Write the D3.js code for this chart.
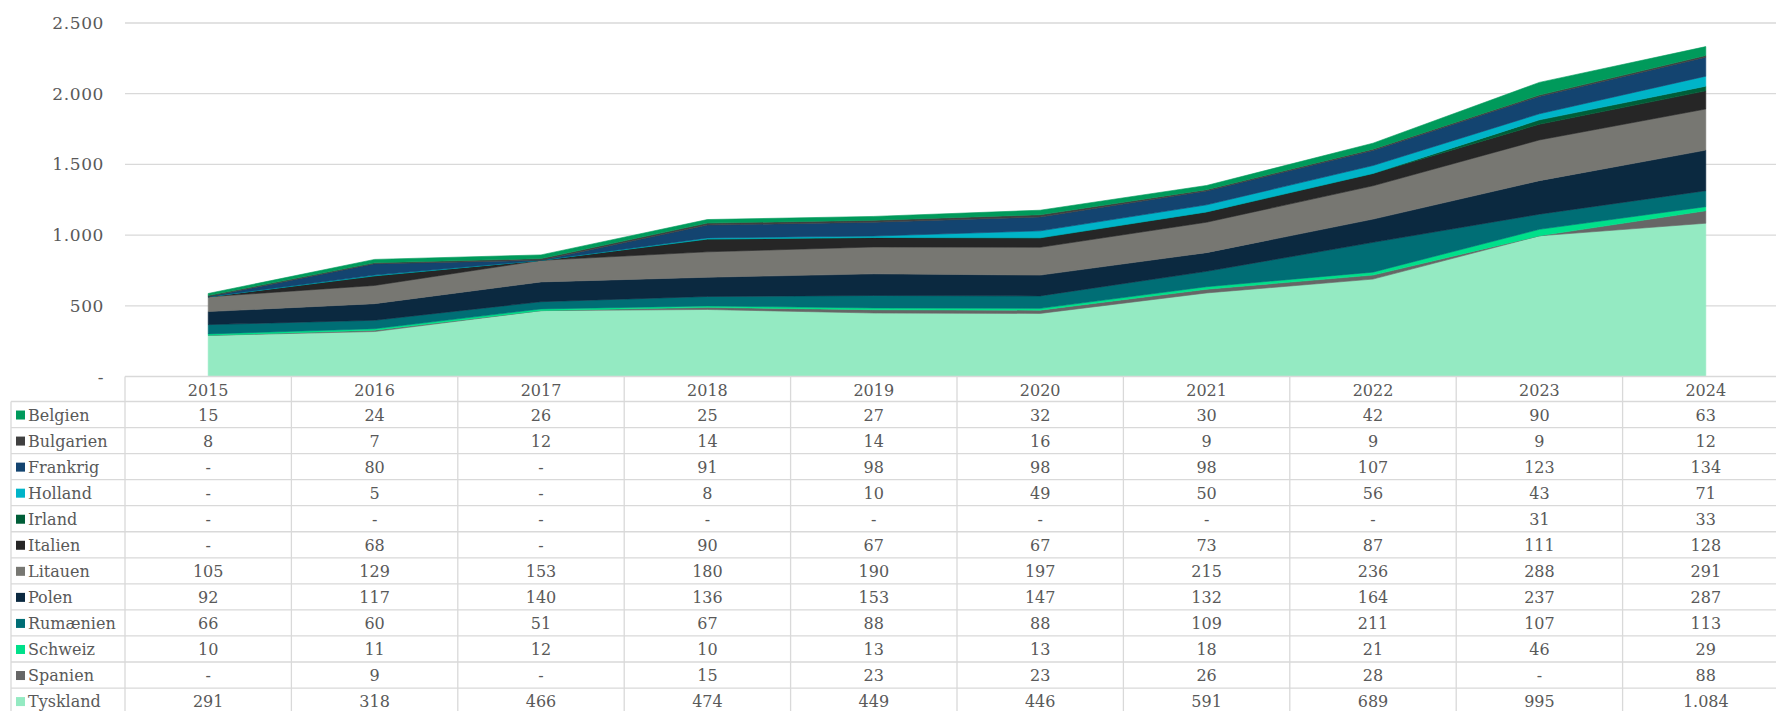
<!DOCTYPE html>
<html>
<head>
<meta charset="utf-8">
<script src="https://cdn.jsdelivr.net/npm/d3@7"></script>
<style>
  body { margin: 0; background: #fff; overflow: hidden; }
</style>
</head>
<body>
<div id="chart"></div>
<script>
// år og lande (tabelrækkefølge, top til bund)
let years = [2015, 2016, 2017, 2018, 2019, 2020, 2021, 2022, 2023, 2024];
let countries = ["Belgien", "Bulgarien", "Frankrig", "Holland", "Irland", "Italien",
                 "Litauen", "Polen", "Rumænien", "Schweiz", "Spanien", "Tyskland"];
let colors = ["#009a5b", "#404040", "#134470", "#00b4c8", "#005e38", "#262626",
              "#777772", "#0b2940", "#006e75", "#00e08a", "#666666", "#94eac2"];

// 0 vises som "-"
let belgien   = [15, 24, 26, 25, 27, 32, 30, 42, 90, 63];
let bulgarien = [8, 7, 12, 14, 14, 16, 9, 9, 9, 12];
let frankrig  = [0, 80, 0, 91, 98, 98, 98, 107, 123, 134];
let holland   = [0, 5, 0, 8, 10, 49, 50, 56, 43, 71];
let irland    = [0, 0, 0, 0, 0, 0, 0, 0, 31, 33];
let italien   = [0, 68, 0, 90, 67, 67, 73, 87, 111, 128];
let litauen   = [105, 129, 153, 180, 190, 197, 215, 236, 288, 291];
let polen     = [92, 117, 140, 136, 153, 147, 132, 164, 237, 287];
let rumaenien = [66, 60, 51, 67, 88, 88, 109, 211, 107, 113];
let schweiz   = [10, 11, 12, 10, 13, 13, 18, 21, 46, 29];
let spanien   = [0, 9, 0, 15, 23, 23, 26, 28, 0, 88];
let tyskland  = [291, 318, 466, 474, 449, 446, 591, 689, 995, 1084];

let series = [belgien, bulgarien, frankrig, holland, irland, italien,
              litauen, polen, rumaenien, schweiz, spanien, tyskland];

let yTicks = [0, 500, 1000, 1500, 2000, 2500];

let W = 1776, H = 711;
let plotLeft = 125, plotRight = 1789;
let yTop = 23, yBottom = 376.5;
let headH = 25, rowH = 26.05;
let legendLeft = 11;

let svg = d3.select("#chart")
    .append("svg")
    .attr("width", W)
    .attr("height", H)
    .attr("font-family", "'DejaVu Serif', 'Liberation Serif', 'Times New Roman', serif")
    .attr("fill", "#595959");

let x = d3.scaleBand()
    .domain(years)
    .range([plotLeft, plotRight]);

let y = d3.scaleLinear()
    .domain([0, 2500])
    .range([yBottom, yTop]);

let fmt = function (v) {
    if (!v) return "-";
    return d3.format(",")(v).replace(/,/g, ".");
};

// gitterlinjer
svg.append("g")
    .selectAll("line")
    .data(yTicks.slice(1))
    .enter()
    .append("line")
    .attr("x1", plotLeft)
    .attr("x2", W)
    .attr("y1", d => y(d))
    .attr("y2", d => y(d))
    .attr("stroke", "#d9d9d9")
    .attr("stroke-width", 1.3);

svg.append("g")
    .selectAll("text")
    .data(yTicks)
    .enter()
    .append("text")
    .attr("x", 104)
    .attr("y", d => y(d) + 6)
    .attr("text-anchor", "end")
    .attr("font-size", 17)
    .attr("letter-spacing", 0.6)
    .text(d => fmt(d));

// stakket areal - Tyskland nederst
let table = years.map(function (yr, i) {
    let row = { year: yr };
    countries.forEach(function (c, j) { row[c] = series[j][i]; });
    return row;
});

let stackKeys = countries.slice().reverse();
let stack = d3.stack().keys(stackKeys);
let layers = stack(table);

let area = d3.area()
    .x(d => x(d.data.year) + x.bandwidth() / 2)
    .y0(d => y(d[0]))
    .y1(d => y(d[1]));

svg.append("g")
    .selectAll("path")
    .data(layers)
    .enter()
    .append("path")
    .attr("d", area)
    .attr("fill", d => colors[countries.indexOf(d.key)])
    .attr("stroke", d => colors[countries.indexOf(d.key)])
    .attr("stroke-width", 0.6);

// datatabel
let grid = svg.append("g")
    .attr("stroke", "#d9d9d9")
    .attr("stroke-width", 1.3)
    .attr("fill", "none");

let tableTop = yBottom;
let rowsTop = tableTop + headH;
let tableBottom = rowsTop + rowH * countries.length;

grid.append("line")
    .attr("x1", plotLeft).attr("x2", W)
    .attr("y1", tableTop).attr("y2", tableTop);

countries.forEach(function (c, i) {
    grid.append("line")
        .attr("x1", legendLeft).attr("x2", W)
        .attr("y1", rowsTop + i * rowH).attr("y2", rowsTop + i * rowH);
});

grid.append("line")
    .attr("x1", legendLeft).attr("x2", legendLeft)
    .attr("y1", rowsTop).attr("y2", tableBottom);

years.forEach(function (yr) {
    grid.append("line")
        .attr("x1", x(yr)).attr("x2", x(yr))
        .attr("y1", tableTop).attr("y2", tableBottom);
});

svg.append("g")
    .selectAll("text")
    .data(years)
    .enter()
    .append("text")
    .attr("x", d => x(d) + x.bandwidth() / 2)
    .attr("y", tableTop + 19)
    .attr("text-anchor", "middle")
    .attr("font-size", 16)
    .text(d => d);

let rows = svg.append("g")
    .selectAll("g")
    .data(countries)
    .enter()
    .append("g")
    .attr("transform", (d, i) => "translate(0," + (rowsTop + i * rowH) + ")");

rows.append("rect")
    .attr("x", 16)
    .attr("y", rowH / 2 - 4)
    .attr("width", 9)
    .attr("height", 9)
    .attr("fill", (d, i) => colors[i]);

rows.append("text")
    .attr("x", 28)
    .attr("y", rowH / 2 + 6)
    .attr("font-size", 16)
    .text(d => d);

rows.each(function (c, i) {
    d3.select(this).selectAll(".val")
        .data(series[i])
        .enter()
        .append("text")
        .attr("class", "val")
        .attr("x", (d, k) => x(years[k]) + x.bandwidth() / 2)
        .attr("y", rowH / 2 + 6)
        .attr("text-anchor", "middle")
        .attr("font-size", 16)
        .text(d => fmt(d));
});
</script>
</body>
</html>
